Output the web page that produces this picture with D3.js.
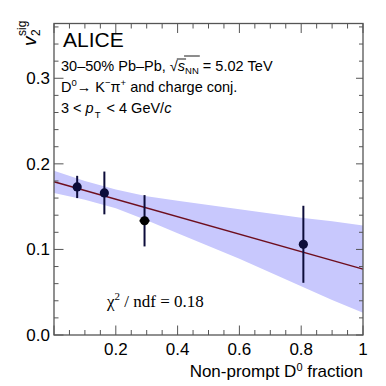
<!DOCTYPE html>
<html>
<head>
<meta charset="utf-8">
<script src="https://cdn.jsdelivr.net/npm/d3@7"></script>
<style>
  body { margin: 0; background: #fff; }
  text { font-family: "Liberation Sans", Arial, sans-serif; fill: #000; white-space: pre; }
</style>
</head>
<body>
<div id="chart"></div>
<script>
// measured points: non-prompt fraction vs v2 of signal
var fracX = [0.075, 0.163, 0.293, 0.807];
var v2Sig = [0.173, 0.166, 0.1335, 0.106];
var v2Err = [0.013, 0.025, 0.030, 0.045];

// linear fit and its confidence band
var fitX = [0, 1];
var fitY = [0.179, 0.077];
var bandX = [0, 0.1, 0.2, 0.3, 0.4, 0.5, 0.6, 0.7, 0.8, 0.9, 1.0];
var bandLo = [0.166, 0.158, 0.148, 0.134, 0.119, 0.104, 0.089, 0.073, 0.057, 0.041, 0.026];
var bandHi = [0.192, 0.180, 0.170, 0.162, 0.157, 0.152, 0.147, 0.142, 0.137, 0.133, 0.128];

var xTickLabels = [0.2, 0.4, 0.6, 0.8, 1];
var yTickLabels = [0.0, 0.1, 0.2, 0.3];

var W = 386, H = 386;
var frame = {left: 54, right: 363, top: 23.5, bottom: 335};

var svg = d3.select("#chart").append("svg")
    .attr("width", W).attr("height", H);

var x = d3.scaleLinear().domain([0, 1]).range([frame.left, frame.right]);
var y = d3.scaleLinear().domain([0, 0.364]).range([frame.bottom, frame.top]);

// draw a run of text pieces one after another, returns total width
// (spaces are non-breaking so they survive the measuring)
function rich(g, x0, y0, parts, base) {
    var cx = x0;
    parts.forEach(function (p) {
        var t = g.append("text")
            .attr("x", cx)
            .attr("y", y0 + (p.dy || 0))
            .style("font-size", (p.size || base) + "px")
            .style("font-style", p.italic ? "italic" : null)
            .style("font-family", p.family || null)
            .text(p.t.replace(/ /g, "\u00A0"));
        var w = t.node().getComputedTextLength();
        if (p.over) {
            g.append("line")
                .attr("x1", cx - 1).attr("x2", cx + w + 1)
                .attr("y1", y0 - p.over).attr("y2", y0 - p.over)
                .attr("stroke", "#000").attr("stroke-width", 0.9);
        }
        cx += w + (p.gap || 0);
    });
    return cx - x0;
}

// band
var band = d3.area()
    .x(function (d, i) { return x(bandX[i]); })
    .y0(function (d, i) { return y(bandLo[i]); })
    .y1(function (d, i) { return y(bandHi[i]); });
svg.append("path")
    .datum(bandX)
    .attr("d", band)
    .attr("fill", "#c8c8fd");

// fit line
svg.append("line")
    .attr("x1", x(fitX[0])).attr("y1", y(fitY[0]))
    .attr("x2", x(fitX[1])).attr("y2", y(fitY[1]))
    .attr("stroke", "#6e0e1e").attr("stroke-width", 1.5);

// ticks on all four sides
var tk = svg.append("g").attr("stroke", "#555").attr("stroke-width", 1);
d3.range(0, 1.0001, 0.05).forEach(function (v) {
    var major = Math.abs(v / 0.2 - Math.round(v / 0.2)) < 1e-6;
    var len = major ? 9.5 : 5;
    tk.append("line").attr("x1", x(v)).attr("x2", x(v))
        .attr("y1", frame.bottom).attr("y2", frame.bottom - len);
    tk.append("line").attr("x1", x(v)).attr("x2", x(v))
        .attr("y1", frame.top).attr("y2", frame.top + len);
});
d3.range(0, 0.3601, 0.02).forEach(function (v) {
    var major = Math.abs(v / 0.1 - Math.round(v / 0.1)) < 1e-6;
    tk.append("line").attr("x1", frame.left).attr("x2", frame.left + (major ? 9.5 : 4.5))
        .attr("y1", y(v)).attr("y2", y(v));
    tk.append("line").attr("x1", frame.right).attr("x2", frame.right - (major ? 7 : 4))
        .attr("y1", y(v)).attr("y2", y(v));
});

// frame
svg.append("rect")
    .attr("x", frame.left).attr("y", frame.top)
    .attr("width", frame.right - frame.left)
    .attr("height", frame.bottom - frame.top)
    .attr("fill", "none").attr("stroke", "#555").attr("stroke-width", 1.3);

// tick labels
svg.selectAll(".xl").data(xTickLabels).enter().append("text")
    .attr("x", function (d) { return x(d); })
    .attr("y", 355)
    .attr("text-anchor", "middle")
    .style("font-size", "17px")
    .text(function (d) { return d === 1 ? "1" : d3.format(".1f")(d); });
svg.selectAll(".yl").data(yTickLabels).enter().append("text")
    .attr("x", 50)
    .attr("y", function (d) { return y(d) + 6; })
    .attr("text-anchor", "end")
    .style("font-size", "17px")
    .text(function (d) { return d3.format(".1f")(d); });

// error bars and markers
var pts = svg.append("g");
fracX.forEach(function (fx, i) {
    pts.append("line")
        .attr("x1", x(fx)).attr("x2", x(fx))
        .attr("y1", y(v2Sig[i] - v2Err[i])).attr("y2", y(v2Sig[i] + v2Err[i]))
        .attr("stroke", "#0c0c3a").attr("stroke-width", 2);
});
// short horizontal mark on the third point
pts.append("line")
    .attr("x1", x(fracX[2]) - 5).attr("x2", x(fracX[2]) + 5)
    .attr("y1", y(v2Sig[2])).attr("y2", y(v2Sig[2]))
    .attr("stroke", "#000").attr("stroke-width", 2);
pts.selectAll("circle").data(fracX).enter().append("circle")
    .attr("cx", function (d) { return x(d); })
    .attr("cy", function (d, i) { return y(v2Sig[i]); })
    .attr("r", 4.6)
    .attr("fill", function (d, i) { return i === 2 ? "#000" : "#0c0c3a"; });

// axis titles
var xt = svg.append("g");
var xw = rich(xt, 0, 377, [
    {t: "Non-prompt D"},
    {t: "0", size: 11, dy: -6.5},
    {t: " fraction"}
], 17);
xt.attr("transform", "translate(" + (frame.right - xw) + ",0)");

var yt = svg.append("g").attr("transform", "translate(36,46) rotate(-90)");
yt.append("text").attr("x", 0).attr("y", 0).style("font-size", "19px")
    .style("font-style", "italic").text("v");
yt.append("text").attr("x", 10).attr("y", 4).style("font-size", "12px").text("2");
yt.append("text").attr("x", 10).attr("y", -10).style("font-size", "12px").text("sig");

// labels inside the frame
svg.append("text").attr("x", 63).attr("y", 47)
    .style("font-size", "21px").text("ALICE");

var info = svg.append("g");
rich(info, 61, 71, [
    {t: "30\u201350% Pb\u2013Pb, "},
    {t: "\u221A"},
    {t: "s", italic: true, over: 12},
    {t: "NN", size: 9.5, dy: 3, over: 15},
    {t: " = 5.02 TeV"}
], 14.5);
rich(info, 61, 92, [
    {t: "D"},
    {t: "0", size: 9.5, dy: -6},
    {t: "\u2192 K"},
    {t: "\u2212", size: 9.5, dy: -6},
    {t: "\u03C0"},
    {t: "+", size: 9.5, dy: -6},
    {t: " and charge conj."}
], 14.5);
rich(info, 61, 113, [
    {t: "3 < "},
    {t: "p", italic: true, gap: 1},
    {t: "T", size: 9.5, dy: 5, gap: 2},
    {t: " < 4 GeV/"},
    {t: "c", italic: true}
], 14.5);

rich(svg.append("g"), 107, 307, [
    {t: "\u03C7", family: "Liberation Serif"},
    {t: "2", size: 11, dy: -7, family: "Liberation Serif"},
    {t: " / ndf = 0.18", family: "Liberation Serif"}
], 17);
</script>
</body>
</html>
